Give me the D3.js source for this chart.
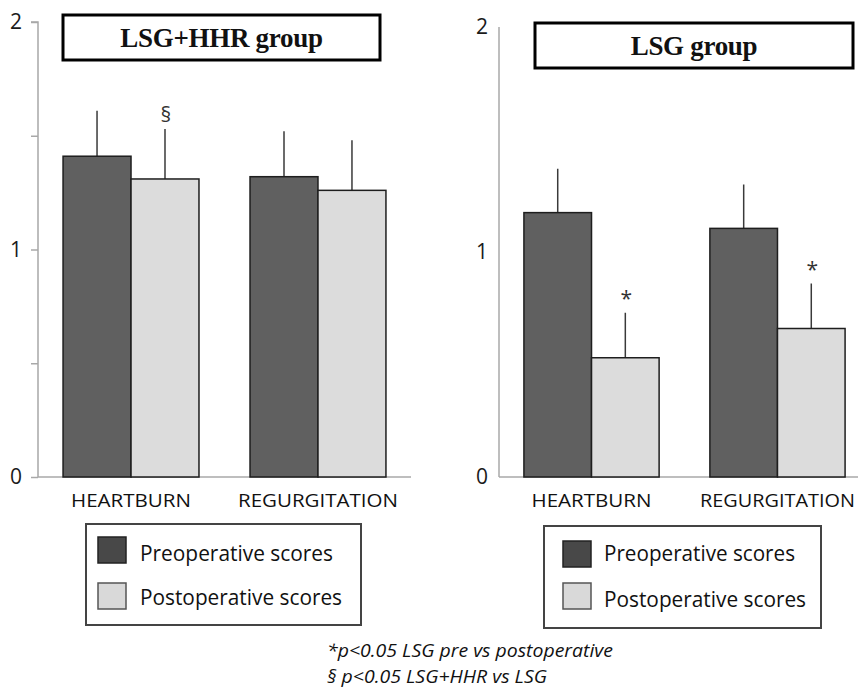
<!DOCTYPE html>
<html>
<head>
<meta charset="utf-8">
<script src="https://cdn.jsdelivr.net/npm/d3@7"></script>
<style>
html,body{margin:0;padding:0;background:#fff;}
svg{display:block;}
</style>
</head>
<body>
<svg id="chart" width="858" height="692"></svg>
<script>
// ---- data ----
const categories = ["HEARTBURN", "REGURGITATION"];
const seriesNames = ["Preoperative scores", "Postoperative scores"];
const panelTitles = ["LSG+HHR group", "LSG group"];
// LSG+HHR group
const hhrPre = [1.41, 1.32];
const hhrPost = [1.31, 1.26];
const hhrPreErr = [1.61, 1.52];
const hhrPostErr = [1.53, 1.48];
const hhrPostMarks = ["§", ""];
// LSG group
const lsgPre = [1.175, 1.105];
const lsgPost = [0.53, 0.66];
const lsgPreErr = [1.37, 1.30];
const lsgPostErr = [0.73, 0.86];
const lsgPostMarks = ["*", "*"];
const yTicks = [0, 0.5, 1, 1.5, 2];
const footnotes = ["*p<0.05 LSG pre vs postoperative", "§ p<0.05 LSG+HHR vs LSG"];

const svg = d3.select("#chart");
const colors = ["#606060", "#dcdcdc"];
const FONT = "'Open Sans', 'Noto Sans', sans-serif";

const panels = [
  {title: panelTitles[0], pre: hhrPre, post: hhrPost, preErr: hhrPreErr, postErr: hhrPostErr,
   marks: hhrPostMarks, x0: 38, x1: 411, xAxisEnd: 411, yTop: 22, yBot: 477, minorTicks: true,
   titleBox: [63, 15, 380, 60], labelW: [120, 160],
   legend: {box: [86, 524, 361, 625], sw: [[98, 537], [98, 583]], tx: 140, ty: [561, 605], tw: [193, 202]}},
  {title: panelTitles[1], pre: lsgPre, post: lsgPost, preErr: lsgPreErr, postErr: lsgPostErr,
   marks: lsgPostMarks, x0: 499, x1: 870, xAxisEnd: 858, yTop: 27, yBot: 477, minorTicks: false,
   titleBox: [535, 23, 853, 68], labelW: [120, 155],
   legend: {box: [544, 526, 821, 628], sw: [[563, 541], [563, 583]], tx: 604, ty: [561, 607], tw: [191, 202]}}
];

panels.forEach(p => {
  const g = svg.append("g");
  const y = d3.scaleLinear().domain([0, 2]).range([p.yBot, p.yTop]);
  const x = d3.scaleBand().domain(categories).range([p.x0, p.x1]).paddingInner(0.273).paddingOuter(0.134);
  const xs = d3.scaleBand().domain([0, 1]).range([0, x.bandwidth()]);

  // y axis
  const yAxis = d3.axisLeft(y).tickValues(yTicks)
    .tickSize(p.minorTicks ? 7 : 0).tickPadding(p.minorTicks ? 9 : 11)
    .tickFormat(d => Number.isInteger(d) ? d3.format("d")(d) : "");
  const ya = g.append("g").attr("transform", `translate(${p.x0},0)`).call(yAxis);
  ya.select(".domain").attr("stroke", "#a8a8a8").attr("stroke-width", 1.5)
    .attr("d", `M${p.minorTicks ? -7 : 0},${y(2)}H0V${y(0)}`);
  ya.selectAll(".tick line").attr("stroke", "#a8a8a8").attr("stroke-width", 1.5);
  ya.selectAll(".tick text").attr("font-family", FONT).attr("font-size", 21).attr("fill", "#1a1a1a");

  // x axis baseline
  g.append("line").attr("x1", p.x0).attr("x2", p.xAxisEnd).attr("y1", y(0)).attr("y2", y(0))
    .attr("stroke", "#a8a8a8").attr("stroke-width", 1.5);

  // error bars
  const eb = [];
  categories.forEach((c, i) => {
    eb.push({x: x(c) + xs(0) + xs.bandwidth() / 2, v: p.pre[i], e: p.preErr[i], m: ""});
    eb.push({x: x(c) + xs(1) + xs.bandwidth() / 2, v: p.post[i], e: p.postErr[i], m: p.marks[i]});
  });
  g.selectAll(".err").data(eb).join("line")
    .attr("x1", d => d.x).attr("x2", d => d.x)
    .attr("y1", d => y(d.v)).attr("y2", d => y(d.e))
    .attr("stroke", "#3a3a3a").attr("stroke-width", 1.5);

  // bars
  const bars = [];
  categories.forEach((c, i) => {
    bars.push({c, s: 0, v: p.pre[i]});
    bars.push({c, s: 1, v: p.post[i]});
  });
  g.selectAll(".bar").data(bars).join("rect")
    .attr("x", d => x(d.c) + xs(d.s))
    .attr("y", d => y(d.v))
    .attr("width", xs.bandwidth())
    .attr("height", d => y(0) - y(d.v))
    .attr("fill", d => colors[d.s])
    .attr("stroke", "#1e1e1e").attr("stroke-width", 1.5);

  // significance marks
  g.selectAll(".mark").data(eb.filter(d => d.m)).join("text")
    .attr("x", d => d.x + 1).attr("y", d => y(d.e) - 7)
    .attr("text-anchor", "middle").attr("font-family", FONT).attr("font-size", 21).attr("fill", "#333")
    .text(d => d.m);

  // category labels
  g.selectAll(".cat").data(categories).join("text")
    .attr("x", d => x(d) + x.bandwidth() / 2).attr("y", 507)
    .attr("text-anchor", "middle").attr("font-family", FONT).attr("font-size", 18.5).attr("fill", "#111")
    .attr("textLength", (d, i) => p.labelW[i]).attr("lengthAdjust", "spacingAndGlyphs")
    .text(d => d);

  // title box
  const tb = p.titleBox;
  g.append("rect").attr("x", tb[0]).attr("y", tb[1]).attr("width", tb[2] - tb[0]).attr("height", tb[3] - tb[1])
    .attr("fill", "#fff").attr("stroke", "#000").attr("stroke-width", 3);
  g.append("text").attr("x", (tb[0] + tb[2]) / 2).attr("y", tb[1] + 32)
    .attr("text-anchor", "middle").attr("font-family", "'Liberation Serif', 'DejaVu Serif', serif")
    .attr("font-weight", "bold").attr("font-size", 27).attr("fill", "#111").attr("letter-spacing", -0.3)
    .text(p.title);

  // legend
  const L = p.legend;
  g.append("rect").attr("x", L.box[0]).attr("y", L.box[1]).attr("width", L.box[2] - L.box[0]).attr("height", L.box[3] - L.box[1])
    .attr("fill", "#fff").attr("stroke", "#444").attr("stroke-width", 2);
  const legColors = ["#484848", "#d9d9d9"];
  const legStroke = ["#222", "#555"];
  seriesNames.forEach((s, i) => {
    g.append("rect").attr("x", L.sw[i][0]).attr("y", L.sw[i][1]).attr("width", 28).attr("height", 26)
      .attr("fill", legColors[i]).attr("stroke", legStroke[i]).attr("stroke-width", 1.5);
    g.append("text").attr("x", L.tx).attr("y", L.ty[i])
      .attr("font-family", FONT).attr("font-size", 21.5).attr("fill", "#111")
      .attr("textLength", L.tw[i]).attr("lengthAdjust", "spacingAndGlyphs")
      .text(s);
  });
});

// footnotes
svg.selectAll(".foot").data(footnotes).join("text")
  .attr("x", 327).attr("y", (d, i) => 657 + i * 26)
  .attr("font-family", FONT).attr("font-style", "italic").attr("font-size", 17.5).attr("fill", "#111")
  .attr("textLength", (d, i) => [286, 220][i]).attr("lengthAdjust", "spacingAndGlyphs")
  .text(d => d);
</script>
</body>
</html>
